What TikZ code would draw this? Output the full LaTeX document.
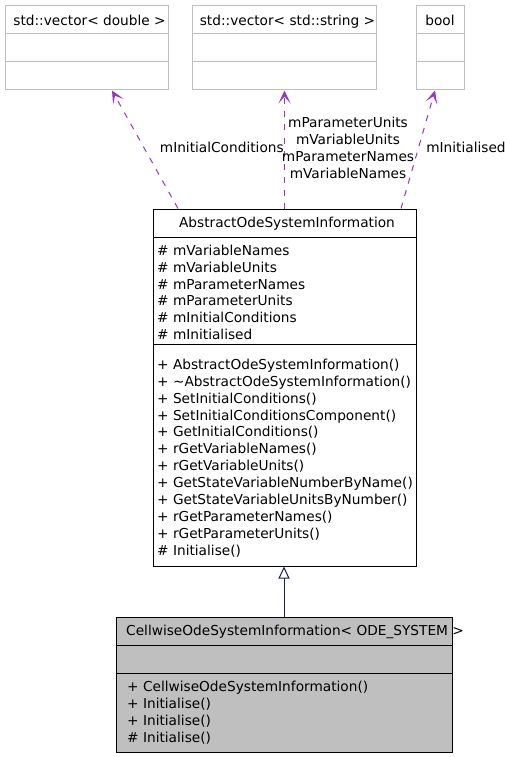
\documentclass[tikz,border=0pt]{standalone}
\usepackage{fontspec}
\setmainfont{DejaVu Sans}
\usetikzlibrary{arrows.meta}

\definecolor{boxgrey}{HTML}{BFBFBF}
\definecolor{usecolor}{HTML}{9A32CD}
\definecolor{inhcolor}{HTML}{191970}

\tikzset{
  classbox/.style={draw, rectangle, line width=1pt},
  typebox/.style={classbox, draw=boxgrey, minimum height=84pt},
  member/.style={anchor=base west},
  classname/.style={anchor=base},
  uses/.style={usecolor, line width=1pt, dash pattern=on 6pt off 7pt,
    -{Stealth[length=13pt,width=12pt,inset=7pt]}},
  inherits/.style={inhcolor, line width=1pt,
    -{Triangle[open,length=12pt,width=11pt,fill=white]}},
  edgelabel/.style={align=center, text=black}
}

\begin{document}
\begin{tikzpicture}[x=1pt,y=-1pt,
  every node/.style={font=\fontsize{13.7}{16.9}\selectfont, inner sep=0pt}]
\fill[white] (0,0) rectangle (505,757);
\useasboundingbox (0,0) rectangle (505,757);

% used types
\node[typebox, minimum width=163pt] (dbl) at (86.5,48) {};
\node[typebox, minimum width=184pt] (str) at (284,48) {};
\node[typebox, minimum width=48pt] (bool) at (440,48) {};
\foreach \t in {dbl,str,bool} {
  \draw[boxgrey, line width=1pt] (\t.west |- 0,34) -- (\t.east |- 0,34);
  \draw[boxgrey, line width=1pt] (\t.west |- 0,62) -- (\t.east |- 0,62);
}
\node[classname] (dbl-name) at (89.5,25.7) {std::vector< double >};
\node[classname] (str-name) at (287.5,25.7) {std::vector< std::string >};
\node[classname] (bool-name) at (440,25.7) {bool};

% base class
\node[classbox, minimum width=263pt, minimum height=357pt] (abs) at (284.5,387.5) {};
\draw[line width=1pt] (abs.west |- 0,237) -- (abs.east |- 0,237);
\draw[line width=1pt] (abs.west |- 0,344) -- (abs.east |- 0,344);
\node[classname] (abs-name) at (287,227.3) {AbstractOdeSystemInformation};
\foreach \m [count=\i from 0] in {{\# mVariableNames},{\# mVariableUnits},
    {\# mParameterNames},{\# mParameterUnits},{\# mInitialConditions},
    {\# mInitialised}}
  \node[member] (abs-attr\i) at (157,255.7+16.75*\i) {\m};
\foreach \m [count=\i from 0] in {{+ AbstractOdeSystemInformation()},
    {+ \textasciitilde AbstractOdeSystemInformation()},
    {+ SetInitialConditions()},{+ SetInitialConditionsComponent()},
    {+ GetInitialConditions()},{+ rGetVariableNames()},
    {+ rGetVariableUnits()},{+ GetStateVariableNumberByName()},
    {+ GetStateVariableUnitsByNumber()},{+ rGetParameterNames()},
    {+ rGetParameterUnits()},{\# Initialise()}}
  \node[member] (abs-op\i) at (157,369.3+16.9*\i) {\m};

% derived class
\node[classbox, fill=boxgrey, minimum width=336pt, minimum height=135pt] (cell) at (284,684.5) {};
\draw[line width=1pt] (cell.west |- 0,645) -- (cell.east |- 0,645);
\draw[line width=1pt] (cell.west |- 0,673) -- (cell.east |- 0,673);
\node[classname] (cell-name) at (295,635.7) {CellwiseOdeSystemInformation< ODE\_SYSTEM >};
\foreach \m [count=\i from 0] in {{+ CellwiseOdeSystemInformation()},
    {+ Initialise()},{+ Initialise()},{\# Initialise()}}
  \node[member] (cell-op\i) at (127,691.7+16.9*\i) {\m};

% connectors
\draw[uses] ([xshift=-106.5pt]abs.north) -- ([xshift=25.5pt]dbl.south)
  node[edgelabel] (lbl-dbl) at (221.8,147.7) {mInitialConditions};
\draw[uses] (abs.north) -- (abs.north |- str.south)
  node[edgelabel] (lbl-str) at (348,148.1)
  {mParameterUnits\\mVariableUnits\\mParameterNames\\mVariableNames};
\draw[uses] ([xshift=116.5pt]abs.north) -- ([xshift=-5pt]bool.south)
  node[edgelabel] (lbl-bool) at (466,147.7) {mInitialised};
\draw[inherits] (cell.north) -- (cell.north |- abs.south);
\end{tikzpicture}
\end{document}
